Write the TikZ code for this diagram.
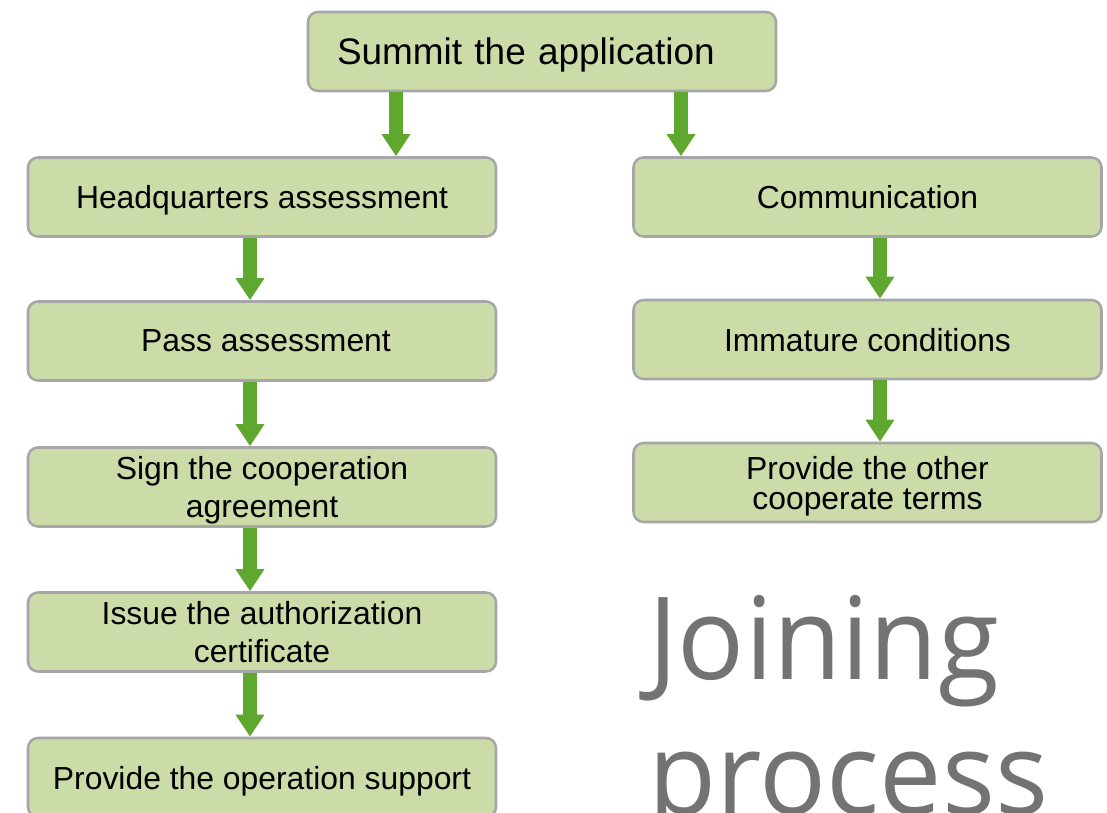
\documentclass[tikz,border=0pt]{standalone}
\usepackage{fontspec}
\setmainfont{Liberation Sans}
\newfontfamily\titlefont[FakeStretch=0.97]{Open Sans}
\usetikzlibrary{arrows.meta}
\definecolor{boxfill}{HTML}{CCDCA8}
\definecolor{boxline}{HTML}{A6A6A6}
\definecolor{flowgreen}{HTML}{5FA830}
\definecolor{titlegray}{HTML}{737373}
\tikzset{
  stepbox/.style={draw=boxline, fill=boxfill, line width=1.9pt, rounded corners=7.5pt,
    minimum width=351pt, minimum height=59.25pt, inner sep=0pt, align=center,
    text depth=0pt, font=\fontsize{23.9}{29}\selectfont},
  flow/.style={draw=flowgreen, line width=11pt,
    -{Triangle[width=20.5pt,length=16.5pt]}},
}
\begin{document}
\begin{tikzpicture}[x=0.75pt,y=-0.75pt]
\useasboundingbox (0,0) rectangle (1107,813);
\clip (0,0) rectangle (1107,813);

% top step
\node[stepbox, minimum width=0pt, text width=307.5pt, inner xsep=21.75pt, align=left,
  font=\fontsize{27.7}{33}\selectfont] (submit) at (542,51.5) {Summit the application};

% left branch
\node[stepbox] (hq)   at (262,197)   {Headquarters assessment};
\node[stepbox] (pass) at (262,341)   {\hspace*{6pt}Pass assessment};
\node[stepbox] (sign) at (262,487)   {Sign the cooperation\\agreement};
\node[stepbox] (cert) at (262,632)   {Issue the authorization\\certificate};
\node[stepbox] (supp) at (262,777.5) {Provide the operation support};

% right branch
\node[stepbox] (comm)  at (867.5,197)   {Communication};
\node[stepbox] (immat) at (867.5,339.5) {Immature conditions};
\node[stepbox, font=\fontsize{23.9}{22.5}\selectfont] (terms) at (867.5,482.5)
  {Provide the other\\cooperate terms};

% connectors
\draw[flow] (submit.south -| 396,0) -- (hq.north -| 396,0);
\draw[flow] (submit.south -| 681,0) -- (comm.north -| 681,0);
\draw[flow] (hq.south -| 250,0)   -- (pass.north -| 250,0);
\draw[flow] (pass.south -| 250,0) -- (sign.north -| 250,0);
\draw[flow] (sign.south -| 250,0) -- (cert.north -| 250,0);
\draw[flow] (cert.south -| 250,0) -- (supp.north -| 250,0);
\draw[flow] (comm.south -| 880,0)  -- (immat.north -| 880,0);
\draw[flow] (immat.south -| 880,0) -- (terms.north -| 880,0);

% title, last baseline at the lower edge
\node[anchor=base west, inner sep=0pt, align=left, text=titlegray,
  font=\titlefont\fontsize{86}{101}\selectfont] (title) at (648,814) {Joining\\process};
\end{tikzpicture}
\end{document}
